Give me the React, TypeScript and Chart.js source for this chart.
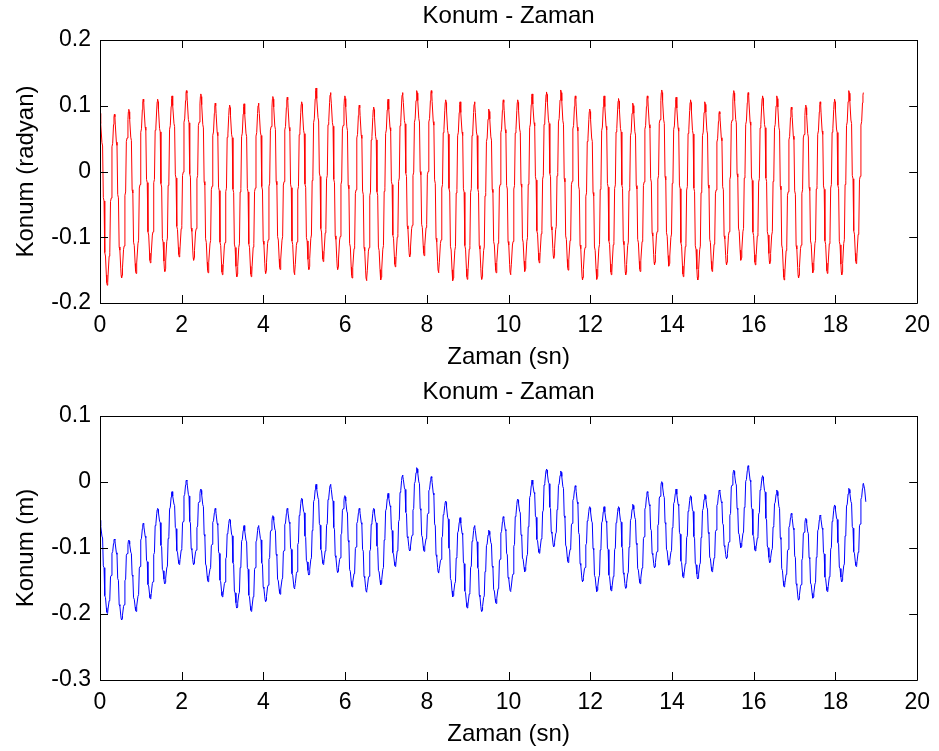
import React, { useEffect, useRef } from "react";
import { Chart, registerables } from "chart.js";

Chart.register(...registerables);

// Oscillation period (s) and time axis
const PERIOD = 0.3525;
const xTicks = [0, 2, 4, 6, 8, 10, 12, 14, 16, 18, 20];
const topYTicks = [-0.2, -0.1, 0, 0.1, 0.2];
const bottomYTicks = [-0.3, -0.2, -0.1, 0, 0.1];

// Top plot: peak values of each cycle (radyan)
const topPeaks = [
  0.0885, 0.087, 0.0946, 0.11, 0.11, 0.115, 0.123, 0.118, 0.104, 0.101, 0.103, 0.104, 0.114, 0.113,
  0.106, 0.127, 0.12, 0.115, 0.101, 0.098, 0.11, 0.12, 0.123, 0.123, 0.109, 0.106, 0.106, 0.095,
  0.109, 0.109, 0.118, 0.121, 0.124, 0.115, 0.095, 0.115, 0.111, 0.104, 0.115, 0.124, 0.113,
  0.109, 0.106, 0.091, 0.123, 0.12, 0.115, 0.115, 0.098, 0.101, 0.106, 0.11, 0.123, 0.12,
];
// Top plot: trough values between peaks
const topTroughs = [
  -0.173, -0.162, -0.155, -0.139, -0.152, -0.13, -0.135, -0.154, -0.157, -0.16, -0.16, -0.155, -0.149, -0.157,
  -0.149, -0.137, -0.149, -0.162, -0.166, -0.165, -0.145, -0.13, -0.128, -0.154, -0.166, -0.164, -0.164,
  -0.154, -0.157, -0.152, -0.139, -0.132, -0.15, -0.165, -0.164, -0.157, -0.157, -0.152, -0.142, -0.144,
  -0.16, -0.165, -0.152, -0.142, -0.135, -0.142, -0.14, -0.165, -0.162, -0.154, -0.155, -0.157, -0.14,
];

// Bottom plot: peak values of each cycle (m)
const bottomPeaks = [
  -0.058, -0.0864, -0.0879, -0.0626, -0.04, -0.0146, 0.003, -0.0106, -0.04, -0.056, -0.066, -0.066, -0.051, -0.04,
  -0.0247, -0.0035, -0.0035, -0.0207, -0.04, -0.04, -0.0172, 0.0106, 0.0217, 0.0081, -0.0288, -0.054, -0.066, -0.073,
  -0.0525, -0.0258, 0.003, 0.0197, 0.0167, -0.0056, -0.0374, -0.0374, -0.0374, -0.0338, -0.0146, 0.0005, -0.0106,
  -0.0207, -0.0187, -0.0121, 0.018, 0.0247, 0.0096, -0.0121, -0.0475, -0.055, -0.05, -0.0348, -0.0096, -0.002,
];
// Bottom plot: trough values between peaks
const bottomTroughs = [
  -0.199, -0.209, -0.196, -0.177, -0.154, -0.125, -0.125, -0.151, -0.174, -0.191, -0.196, -0.181, -0.17, -0.162,
  -0.141, -0.125, -0.137, -0.159, -0.167, -0.156, -0.128, -0.1045, -0.105, -0.138, -0.174, -0.191, -0.196,
  -0.184, -0.166, -0.136, -0.108, -0.098, -0.122, -0.151, -0.166, -0.165, -0.161, -0.154, -0.13, -0.126, -0.145,
  -0.147, -0.136, -0.116, -0.0995, -0.1045, -0.122, -0.159, -0.179, -0.176, -0.166, -0.151, -0.128,
];
const bottomEndValue = -0.03;

// Shape of one half-cycle (fraction of half period, fraction of swing): near-linear with small shoulders
const shapeTime = [0, 0.07, 0.12, 0.27, 0.36, 0.46, 0.56, 0.66, 0.76, 0.88, 0.94, 1];
const shapeLevel = [0, 0.015, 0.06, 0.17, 0.19, 0.49, 0.51, 0.81, 0.83, 0.94, 0.985, 1];

function buildSeries(peaks: number[], troughs: number[], endValue?: number) {
  const pts: { x: number; y: number }[] = [];
  const half = PERIOD / 2;
  for (let i = 0; i < peaks.length; i++) {
    const tp = i * PERIOD;
    pts.push({ x: tp, y: peaks[i] });
    if (i < troughs.length) {
      for (let j = 1; j < shapeTime.length; j++) {
        pts.push({ x: tp + shapeTime[j] * half, y: peaks[i] + (troughs[i] - peaks[i]) * shapeLevel[j] });
      }
      if (i + 1 < peaks.length) {
        for (let j = 1; j < shapeTime.length - 1; j++) {
          pts.push({
            x: tp + half + shapeTime[j] * half,
            y: troughs[i] + (peaks[i + 1] - troughs[i]) * shapeLevel[j],
          });
        }
      }
    }
  }
  if (endValue !== undefined) {
    const tl = (peaks.length - 1) * PERIOD;
    pts.push({ x: tl + 0.03, y: peaks[peaks.length - 1] + (endValue - peaks[peaks.length - 1]) * 0.3 });
    pts.push({ x: tl + 0.06, y: endValue });
  }
  return pts;
}

const FONT = "'Liberation Sans', Arial, Helvetica, sans-serif";

function fmt(v: number) {
  const n = Math.round(v * 10) / 10;
  return n === 0 ? "0" : String(n);
}

function makeChart(
  canvas: HTMLCanvasElement,
  points: { x: number; y: number }[],
  color: string,
  yTicks: number[],
  title: string,
  yLabel: string,
  xLabel: string,
  padTop: number,
  padBottom: number
) {
  const frame = {
    id: "matlabFrame",
    afterDraw(chart: any) {
      const { ctx, chartArea } = chart;
      const { left, right, top, bottom } = chartArea;
      const xs = chart.scales.x;
      const ys = chart.scales.y;
      ctx.save();
      ctx.strokeStyle = "#000";
      ctx.lineWidth = 1;
      ctx.beginPath();
      ctx.rect(Math.round(left) + 0.5, Math.round(top) + 0.5, Math.round(right - left), Math.round(bottom - top));
      ctx.stroke();
      const tl = 8;
      ctx.beginPath();
      for (const v of xTicks) {
        const px = Math.round(xs.getPixelForValue(v)) + 0.5;
        ctx.moveTo(px, bottom);
        ctx.lineTo(px, bottom - tl);
        ctx.moveTo(px, top);
        ctx.lineTo(px, top + tl);
      }
      for (const v of yTicks) {
        const py = Math.round(ys.getPixelForValue(v)) + 0.5;
        ctx.moveTo(left, py);
        ctx.lineTo(left + tl, py);
        ctx.moveTo(right, py);
        ctx.lineTo(right - tl, py);
      }
      ctx.stroke();
      ctx.fillStyle = "#000";
      ctx.font = `24px ${FONT}`;
      ctx.textAlign = "center";
      ctx.textBaseline = "alphabetic";
      const cx = (left + right) / 2;
      ctx.fillText(title, cx, top - 17);
      ctx.fillText(xLabel, cx, bottom + 61);
      ctx.translate(33, (top + bottom) / 2);
      ctx.rotate(-Math.PI / 2);
      ctx.fillText(yLabel, 0, 0);
      ctx.restore();
    },
  };

  return new Chart(canvas, {
    type: "line",
    data: {
      datasets: [
        {
          data: points,
          borderColor: color,
          borderWidth: 1,
          pointRadius: 0,
          tension: 0,
          fill: false,
        },
      ],
    },
    options: {
      animation: false,
      responsive: false,
      devicePixelRatio: 1,
      parsing: false,
      layout: { padding: { left: 0, right: 19, top: padTop, bottom: padBottom } },
      plugins: { legend: { display: false }, tooltip: { enabled: false }, title: { display: false } },
      scales: {
        x: {
          type: "linear",
          min: 0,
          max: 20,
          afterFit: (s: any) => {
            s.height = 50;
          },
          afterBuildTicks: (s: any) => {
            s.ticks = xTicks.map((v) => ({ value: v }));
          },
          grid: { display: false, drawTicks: false },
          border: { display: false },
          ticks: {
            autoSkip: false,
            maxRotation: 0,
            padding: 9,
            color: "#000",
            font: { family: FONT, size: 23 },
            callback: (v: any) => String(v),
          },
        },
        y: {
          type: "linear",
          min: yTicks[0],
          max: yTicks[yTicks.length - 1],
          afterFit: (s: any) => {
            s.width = 100;
          },
          afterBuildTicks: (s: any) => {
            s.ticks = yTicks.map((v) => ({ value: v }));
          },
          grid: { display: false, drawTicks: false },
          border: { display: false },
          ticks: {
            autoSkip: false,
            padding: 9,
            color: "#000",
            font: { family: FONT, size: 23 },
            callback: (v: any) => fmt(Number(v)),
          },
        },
      },
    },
    plugins: [frame],
  } as any);
}

export default function App() {
  const topRef = useRef<HTMLCanvasElement>(null);
  const bottomRef = useRef<HTMLCanvasElement>(null);

  useEffect(() => {
    const c1 = makeChart(
      topRef.current!,
      buildSeries(topPeaks, topTroughs),
      "#ff0000",
      topYTicks,
      "Konum - Zaman",
      "Konum (radyan)",
      "Zaman (sn)",
      40,
      22
    );
    const c2 = makeChart(
      bottomRef.current!,
      buildSeries(bottomPeaks, bottomTroughs, bottomEndValue),
      "#0000ff",
      bottomYTicks,
      "Konum - Zaman",
      "Konum (m)",
      "Zaman (sn)",
      41,
      21
    );
    return () => {
      c1.destroy();
      c2.destroy();
    };
  }, []);

  return (
    <div style={{ position: "absolute", left: 0, top: 0, width: 939, height: 751, background: "#fff" }}>
      <canvas ref={topRef} width={939} height={375} style={{ position: "absolute", left: 0, top: 0, width: 939, height: 375 }} />
      <canvas ref={bottomRef} width={939} height={376} style={{ position: "absolute", left: 0, top: 375, width: 939, height: 376 }} />
    </div>
  );
}
